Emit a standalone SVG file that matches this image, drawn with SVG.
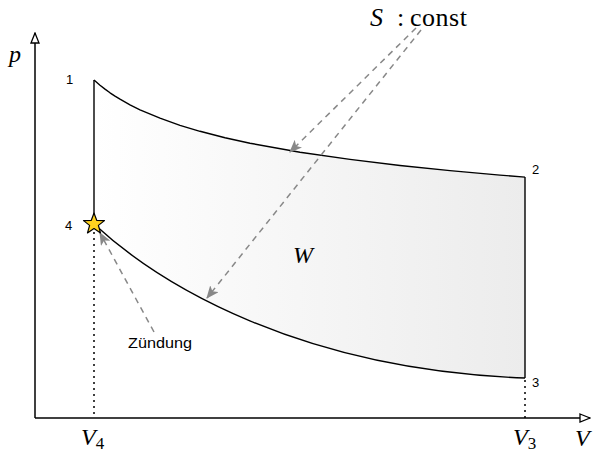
<svg xmlns="http://www.w3.org/2000/svg" width="595" height="453" viewBox="0 0 595 453">
<style>
.num{font-family:"Liberation Sans",Arial,sans-serif;font-size:13px;fill:#000}
.lbl{font-family:"Liberation Sans",Arial,sans-serif;font-size:15px;fill:#000}
.math{font-family:"Liberation Serif","Times New Roman",serif;font-size:24px;fill:#000}
.big{font-size:26px}
.it{font-style:italic}
.sub{font-size:17px}
.axis{stroke:#000;stroke-width:1.5;fill:none}
.curve{stroke:#000;stroke-width:1.4;fill:none;stroke-linejoin:round}
.dot{stroke:#000;stroke-width:1.5;stroke-dasharray:2,4;fill:none}
.dash{stroke:#888;stroke-width:1.5;stroke-dasharray:6,5;fill:none}
</style>
<defs>
<linearGradient id="g" x1="0" y1="0" x2="1" y2="0">
<stop offset="0" stop-color="#ffffff"/>
<stop offset="1" stop-color="#ececec"/>
</linearGradient>
<marker id="open" viewBox="0 0 12 10" refX="11" refY="5" markerWidth="12" markerHeight="10" markerUnits="userSpaceOnUse" orient="auto">
<path d="M1,1 L11,5 L1,9 Z" fill="#fff" stroke="#000" stroke-width="1.3"/>
</marker>
<marker id="gray" viewBox="0 0 12 10" refX="11" refY="5" markerWidth="13" markerHeight="11" markerUnits="userSpaceOnUse" orient="auto">
<path d="M0,0 L12,5 L0,10 L3,5 Z" fill="#888"/>
</marker>
</defs>
<g id="area">
<path d="M94,80 L100,85.2 L105,89.1 L110,92.8 L115,96.1 L120,99.2 L130,104.8 L140,109.8 L160,118.1 L180,125.3 L200,131.3 L225,137.7 L250,143.2 L300,152.2 L350,159.4 L400,165.5 L450,170.6 L500,175.1 L525,177.1 L525,378 C300,370 160,285 94,224 Z" fill="url(#g)" stroke="none"/>
<path class="curve" d="M94,80 L100,85.2 L105,89.1 L110,92.8 L115,96.1 L120,99.2 L130,104.8 L140,109.8 L160,118.1 L180,125.3 L200,131.3 L225,137.7 L250,143.2 L300,152.2 L350,159.4 L400,165.5 L450,170.6 L500,175.1 L525,177.1"/>
<path class="curve" d="M525,177.1 L525,378"/>
<path class="curve" d="M94,224 C160,285 300,370 525,378"/>
<path class="curve" d="M94,224 L94,80"/>
</g>
<g id="axes">
<line class="axis" x1="35" y1="418" x2="35" y2="33" marker-end="url(#open)"/>
<line class="axis" x1="35" y1="418" x2="590" y2="418" marker-end="url(#open)"/>
<line class="dot" x1="94" y1="232" x2="94" y2="418"/>
<line class="dot" x1="525" y1="380" x2="525" y2="418"/>
</g>
<g id="connectors">
<line class="dash" x1="416" y1="28" x2="290" y2="152" marker-end="url(#gray)"/>
<line class="dash" x1="421" y1="30" x2="207" y2="298" marker-end="url(#gray)"/>
<line class="dash" x1="154" y1="332" x2="100" y2="233" marker-end="url(#gray)"/>
</g>
<g id="star">
<path d="M94,213 L96.7,220.3 L104.5,220.6 L98.4,225.4 L100.5,232.9 L94,228.6 L87.5,232.9 L89.6,225.4 L83.5,220.6 L91.3,220.3 Z" fill="#ffd21f" stroke="#000" stroke-width="1.2" stroke-linejoin="round"/>
</g>
<g id="labels">
<text class="num" x="66" y="84">1</text>
<text class="num" x="532" y="174">2</text>
<text class="num" x="532" y="387">3</text>
<text class="num" x="65" y="230">4</text>
<text class="lbl" x="128" y="348" textLength="64" lengthAdjust="spacingAndGlyphs">Zündung</text>
<text class="math it" x="9" y="62">p</text>
<text class="math it" x="575" y="446">V</text>
<text class="math it" x="293" y="263">W</text>
<text class="math" x="81" y="445"><tspan class="it">V</tspan><tspan class="sub" dy="4">4</tspan></text>
<text class="math" x="513" y="445"><tspan class="it">V</tspan><tspan class="sub" dy="4">3</tspan></text>
<text class="math big it" x="370" y="26">S</text>
<text class="math big" x="397" y="26">:</text>
<text class="math big" x="410" y="26" textLength="57" lengthAdjust="spacing">const</text>
</g>
</svg>
